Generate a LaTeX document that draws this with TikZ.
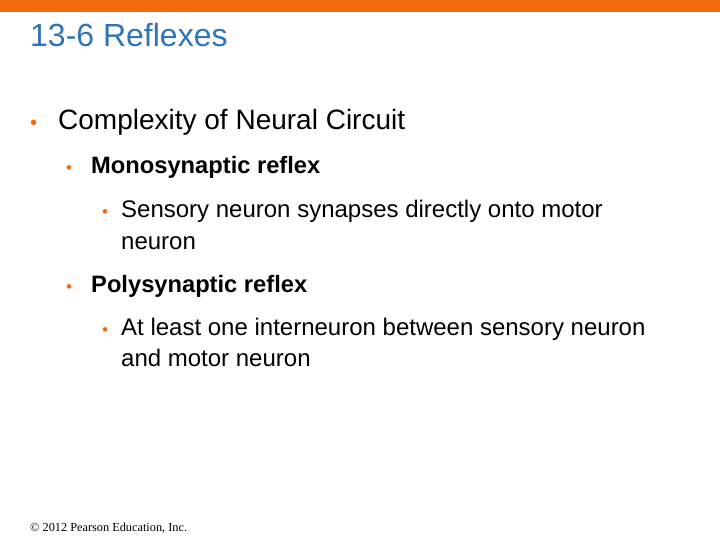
\documentclass[tikz,border=0pt]{standalone}
\usepackage{fontspec}
\setmainfont{Liberation Sans}
\newfontfamily\footfont{Liberation Serif}
\definecolor{orng}{HTML}{F26A0F}
\definecolor{ttl}{HTML}{2E74B6}
\begin{document}
\begin{tikzpicture}[x=1pt,y=-1pt,
  txt/.style={anchor=base west,inner sep=0pt},
  bul/.style={anchor=base west,inner sep=0pt,text=orng}]
\useasboundingbox (0,0) rectangle (720,540);
\fill[white] (0,0) rectangle (720,540);
\fill[orng] (0,0) rectangle (720,12);
\node[txt,text=ttl,font=\fontsize{32}{36}\selectfont] (title) at (30,47) {13-6 Reflexes};
\node[bul,font=\fontsize{20}{22}\selectfont] (b1) at (30,130) {•};
\node[txt,font=\fontsize{28}{32}\selectfont] (t1) at (58,130) {Complexity of Neural Circuit};
\node[bul,font=\fontsize{17}{18}\selectfont] (b2) at (66,174) {•};
\node[txt,font=\bfseries\fontsize{23.7}{26}\selectfont] (t2) at (91,174) {Monosynaptic reflex};
\node[bul,font=\fontsize{17}{18}\selectfont] (b3) at (102,218) {•};
\node[txt,font=\fontsize{24}{26}\selectfont] (t3) at (121,218) {Sensory neuron synapses directly onto motor};
\node[txt,font=\fontsize{24}{26}\selectfont] (t3b) at (121,249) {neuron};
\node[bul,font=\fontsize{17}{18}\selectfont] (b4) at (66,292) {•};
\node[txt,font=\bfseries\fontsize{23.7}{26}\selectfont] (t4) at (91,292) {Polysynaptic reflex};
\node[bul,font=\fontsize{17}{18}\selectfont] (b5) at (102,335) {•};
\node[txt,font=\fontsize{24}{26}\selectfont] (t5) at (121,335) {At least one interneuron between sensory neuron};
\node[txt,font=\fontsize{24}{26}\selectfont] (t5b) at (121,366) {and motor neuron};
\node[txt,font=\footfont\fontsize{12.3}{14}\selectfont] (foot) at (30,531) {© 2012 Pearson Education, Inc.};
\end{tikzpicture}
\end{document}
